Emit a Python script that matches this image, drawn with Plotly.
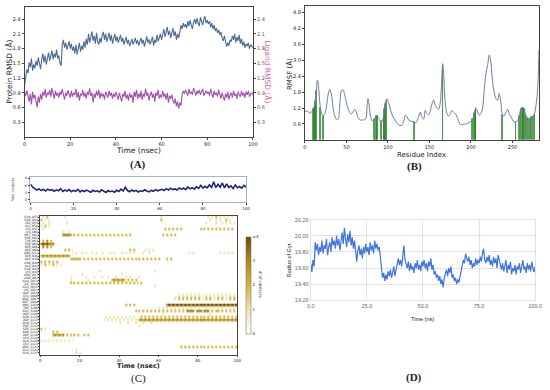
import numpy as np
import plotly.graph_objects as go

# ---------------- Panel A : RMSD ----------------
protein_rmsd = [
    1.05, 1.25, 1.38, 1.30, 1.52, 1.42, 1.60, 1.35, 1.48, 1.40, 1.55,
    1.45, 1.62, 1.50, 1.38, 1.58, 1.70, 1.52, 1.66, 1.48, 1.60,
    1.72, 1.55, 1.68, 1.76, 1.58, 1.70, 1.62, 1.78, 1.60, 1.66,
    1.50, 1.45, 1.88, 1.98, 1.82, 1.92, 1.78, 1.86, 1.95, 1.80,
    1.90, 1.76, 1.84, 1.70, 1.88, 1.68, 1.82, 1.92, 1.74, 1.86,
    1.78, 1.95, 1.82, 2.00, 1.88, 2.10, 1.92, 2.05, 2.15, 1.96,
    2.06, 1.90, 2.12, 1.95, 1.88, 2.02, 1.92, 2.08, 2.14, 1.98,
    2.10, 1.94, 2.04, 2.12, 1.96, 2.08, 1.90, 2.02, 2.10, 1.95,
    2.05, 1.92, 2.00, 2.08, 1.94, 2.02, 1.88, 1.96, 2.04, 1.90,
    1.98, 1.85, 1.92, 2.00, 1.88, 1.95, 2.02, 1.90, 1.97, 1.86,
    1.94, 2.02, 1.90, 1.98, 1.84, 1.96, 2.05, 1.92, 1.99, 1.88,
    1.96, 2.04, 1.86, 1.98, 1.92, 2.08, 1.95, 2.02, 2.10, 1.98,
    2.12, 2.20, 2.04, 2.18, 2.24, 2.08, 2.16, 2.02, 2.14, 2.22,
    2.06, 2.15, 1.98, 2.10, 2.02, 2.12, 2.28, 2.20, 2.32, 2.24,
    2.30, 2.22, 2.36, 2.26, 2.38, 2.28, 2.20, 2.34, 2.40, 2.30,
    2.42, 2.32, 2.26, 2.44, 2.35, 2.28, 2.40, 2.46, 2.32, 2.38,
    2.30, 2.36, 2.24, 2.32, 2.20, 2.28, 2.16, 2.22, 2.12, 2.18,
    2.08, 2.14, 2.02, 1.96, 2.06, 1.90, 1.84, 1.92, 1.86, 1.98,
    1.94, 2.06, 1.98, 2.10, 1.92, 2.04, 1.96, 2.08, 1.90, 2.00,
    1.86, 1.94, 1.82, 1.90, 1.85, 1.92, 1.80, 1.88, 1.84, 1.82,
]
ligand_rmsd = [
    0.90, 0.84, 0.95, 0.80, 0.72, 0.88, 0.66, 0.92, 0.78, 0.86, 0.74,
    0.60, 0.82, 0.70, 0.88, 0.76, 0.92, 0.84, 0.98, 0.80, 0.90,
    0.86, 0.96, 0.82, 1.00, 0.88, 0.78, 0.94, 0.84, 0.90, 0.80,
    0.92, 0.86, 0.98, 0.82, 0.76, 0.90, 0.84, 0.95, 0.88, 0.80,
    0.94, 0.82, 0.90, 0.86, 0.98, 0.80, 0.92, 0.74, 0.88, 0.84,
    0.96, 0.82, 0.90, 0.78, 0.92, 0.86, 0.99, 0.84, 0.90, 0.70,
    0.88, 0.80, 0.94, 0.84, 0.96, 0.78, 0.90, 0.82, 0.88, 0.76,
    0.92, 0.86, 0.80, 0.94, 0.84, 0.90, 0.78, 0.88, 0.82, 0.92,
    0.84, 0.76, 0.90, 0.80, 0.72, 0.88, 0.82, 0.94, 0.78, 0.86,
    0.74, 0.90, 0.80, 0.86, 0.70, 0.92, 0.82, 0.96, 0.78, 0.88,
    0.80, 0.94, 0.76, 0.88, 0.82, 0.98, 0.84, 0.90, 0.74, 0.86,
    0.92, 0.80, 0.88, 0.72, 0.90, 0.84, 0.96, 0.78, 0.86, 0.80,
    0.94, 0.82, 0.88, 0.76, 0.90, 0.70, 0.84, 0.78, 0.86, 0.74,
    0.68, 0.78, 0.62, 0.72, 0.58, 0.70, 0.64, 0.86, 0.94, 0.88,
    0.96, 0.90, 0.84, 0.98, 0.88, 0.92, 0.86, 1.00, 0.90, 0.84,
    0.94, 0.88, 0.96, 0.86, 0.92, 0.98, 0.84, 0.90, 0.94, 0.88,
    0.92, 0.84, 0.98, 0.88, 0.80, 0.94, 0.86, 0.90, 0.82, 0.96,
    0.86, 0.78, 0.90, 0.82, 0.74, 0.88, 0.80, 0.92, 0.76, 0.86,
    0.90, 0.80, 0.94, 0.84, 0.88, 0.78, 0.92, 0.86, 0.82, 0.94,
    0.84, 0.90, 0.80, 0.92, 0.86, 0.94, 0.82, 0.88, 0.90, 0.86,
]
rmsd_ticks = [0.3, 0.6, 0.9, 1.2, 1.5, 1.8, 2.1, 2.4]
time_ticks = [0, 20, 40, 60, 80, 100]

# ---------------- Panel B : RMSF ----------------
rmsf_residue = [0, 3, 6, 9, 11, 13, 15, 16, 18, 20, 22, 24, 26, 28, 30, 32, 34, 36, 38, 40,
                42, 44, 46, 48, 50, 53, 56, 58, 60, 62, 64, 67, 70, 73, 75, 76, 77, 79, 81, 83,
                85, 87, 89, 91, 93, 95, 97, 99, 101, 103, 105, 108, 111, 114, 117, 119, 121, 123, 125, 128,
                131, 134, 137, 139, 141, 143, 145, 147, 149, 151, 153, 155, 157, 159, 161, 163, 165, 166, 167, 169,
                171, 173, 175, 177, 179, 182, 185, 187, 190, 193, 196, 199, 202, 204, 206, 208, 210, 212, 214, 216,
                218, 220, 222, 224, 226, 228, 230, 232, 234, 236, 238, 240, 242, 244, 246, 248, 250, 252, 254, 256,
                258, 260, 262, 264, 266, 268, 270, 272, 274, 276, 278, 280, 282]
rmsf_value = [1.05, 1.10, 1.00, 1.10, 1.22, 1.45, 2.25, 2.15, 1.40, 1.00, 0.92, 0.98, 1.25, 1.70, 1.90, 1.70, 1.20, 0.90, 0.78, 0.78,
              1.30, 1.85, 1.88, 1.70, 1.40, 1.10, 0.98, 1.05, 1.15, 1.05, 0.85, 0.75, 0.75, 0.78, 1.30, 1.55, 1.40, 0.90, 0.72, 0.72,
              0.85, 0.92, 0.80, 0.70, 0.70, 0.95, 1.35, 1.55, 1.40, 1.15, 0.95, 0.78, 0.62, 0.55, 0.55, 0.70, 0.93, 0.88, 0.75, 0.70,
              0.68, 0.65, 0.88, 1.05, 0.85, 0.78, 1.12, 1.00, 0.95, 1.10, 1.35, 1.50, 1.30, 1.20, 1.15, 1.40, 2.40, 2.85, 2.55, 1.40,
              1.00, 0.90, 0.95, 1.10, 1.05, 0.95, 0.72, 0.58, 0.58, 0.60, 0.62, 0.68, 0.78, 1.00, 1.20, 1.05, 0.92, 1.00, 1.20, 1.90,
              2.50, 2.80, 3.20, 2.90, 2.20, 1.80, 1.55, 1.50, 1.75, 1.40, 0.95, 0.90, 1.05, 1.15, 1.00, 0.88, 0.75, 0.68, 0.68, 0.72,
              0.90, 1.15, 1.22, 1.15, 0.95, 0.82, 0.80, 0.85, 0.88, 0.95, 1.25, 1.80, 3.40]
contact_residues = [10, 11, 12, 13, 14, 19, 22, 84, 86, 87, 92, 95, 96, 97, 98, 132, 166,
                    202, 204, 205, 206, 238, 254, 258, 260, 262, 263, 264, 266, 268, 270, 272, 274, 276]
rmsf_ticks = [0.6, 1.2, 1.8, 2.4, 3.0, 3.6, 4.2, 4.8]
residue_ticks = [0, 50, 100, 150, 200, 250]

# ---------------- Panel C : contacts ----------------
total_contacts = [
    6.5, 5.2, 4.6, 4.0, 4.5, 3.8, 4.3, 3.6, 4.4, 3.9, 4.2,
    3.5, 4.1, 3.7, 4.6, 3.4, 4.0, 3.6, 4.2, 3.3, 3.9,
    3.5, 4.3, 3.2, 3.8, 3.4, 4.0, 3.6, 3.1, 3.9, 3.4,
    3.7, 3.2, 4.1, 3.5, 3.0, 3.8, 3.3, 3.6, 3.1, 3.9,
    3.4, 4.4, 3.6, 5.2, 3.8, 3.3, 4.0, 3.5, 3.9, 3.2,
    3.7, 3.4, 4.1, 3.6, 3.2, 3.9, 3.5, 4.2, 3.7, 4.0,
    4.3, 3.8, 4.6, 4.0, 4.8, 4.2, 4.5, 4.0, 4.9, 4.4,
    4.8, 4.2, 5.3, 4.5, 5.0, 4.4, 5.4, 4.7, 6.0, 4.8,
    5.6, 4.9, 6.2, 5.1, 7.5, 5.0, 6.4, 5.2, 7.0, 4.9,
    6.6, 5.1, 5.8, 4.6, 6.2, 5.0, 5.5, 4.8, 6.0, 5.2,
]
contact_yticks = [0, 3, 6, 9]

residue_names = [
    "GLN_853", "GLN_854", "LEU_855", "GLY_856", "LYS_857", "LYS_860", "MET_861", "PHE_862",
    "TYR_863", "THR_864", "SER_866", "ASP_869", "ARG_871", "SER_936", "ASP_939", "ASN_940",
    "ALA_941", "GLN_942", "LYS_943", "ARG_947", "ASN_981", "GLU_1011", "ILE_1012", "GLU_1015",
    "LYS_1053", "ASP_1054", "LEU_1086", "ARG_1087", "MET_1089", "PRO_1104", "TRP_1106", "GLU_1108",
    "ASP_1109", "ASN_1110", "ASP_1111", "GLN_1112", "PHE_1113", "SER_1114", "ASN_1115", "ASP_1116",
    "LEU_1118", "ALA_1120", "LEU_1121", "ARG_1122", "GLU_1124", "GLN_1125",
]
# one character per ns (0..99), '.' = no contact, digit = number of contacts
contact_rows = [
    ".1.2......|..1.......|..........|..........|..........|..........|.1........|..........|.....1.1.2|.1.1.1.1..",
    "2.1.1.....|..........|..........|..........|..........|..........|.2........|..........|......1..1|.1..2.1...",
    ".1..1.....|...1......|..........|..........|..........|..........|..........|..........|....1....1|..1.1.1.1.",
    "1.2.1.....|..........|..........|..........|..........|..........|..........|..........|..........|..........",
    ".1........|..........|..........|..........|..........|..........|...2.2.2.2|.2........|.2.2.2.2.2|.2.2.2.2..",
    "..........|.1..1.....|..........|..........|..........|..........|..........|..........|..........|..........",
    "..........|.33332.2.2|.2.2.2.2.2|.2.2.2.2.2|.2.2.2....|..........|..2.2.2.2.|..........|..........|..........",
    "..........|..........|..........|..........|..........|..........|..........|..........|..........|..........",
    ".2.3.2....|..........|..........|..........|..........|..........|..........|..........|..........|..........",
    "3434333...|..........|..........|..........|..........|..........|..........|..........|..........|..........",
    ".3.3.2....|..........|..........|..........|..........|..........|..........|..........|..........|..........",
    "..........|..2.2.1...|..........|..........|.....2.2..|...1.1.1..|..........|..........|..........|..........",
    "..........|......1.1.|.1.1..1.1.|.1...1.1..|.1.1.1.1.1|..1..1....|..........|.....1.1..|..........|.1.1.1.1..",
    "2323232323|23232.....|..........|..........|..........|..........|..........|..........|..........|..........",
    "..........|.....22222|2.2.2.2.2.|2.2.2.2.2.|2.2.2.2.2.|2.2.2.2.2.|2...2.2...|..........|..........|..........",
    "2.2.2.2.2.|..........|..........|..........|..........|..........|..........|..........|..........|..........",
    "1.2.1.2.1.|1.........|..........|..........|..........|..........|..........|..........|..........|..........",
    "..........|..........|..........|..........|..........|..........|..........|..........|..........|..........",
    "..........|..........|..........|1.........|..........|........1.|..........|..........|..........|..........",
    "..........|..........|.1........|..........|.1........|..........|..........|..........|..........|..........",
    "..........|.....1....|...1...1..|.1..1...1.|...1.1....|1.........|..........|..........|..........|..........",
    "..........|.....1....|....1.....|......2323|232.2.2.2.|..........|..........|..........|..........|..........",
    "..........|.....2.2.2|.2.2.2.2.2|.2.2.2.2.2|.2.2.2.2.2|.2........|..........|..........|..........|..........",
    "..........|..........|..........|..........|..........|........1.|..........|..........|..........|..........",
    "..........|..........|..........|..........|..........|..........|..........|..........|..........|..........",
    "..........|..........|..........|..........|..........|..........|..........|..........|..........|..........",
    "..........|..........|..........|..........|..........|..........|..........|1.1.1.1.1.|1.1.1.1.1.|1.1.1.1.1.",
    "..........|..........|..........|..........|..........|..........|........1.|2.2.2.2.2.|2.1.2.2.1.|2.2.1.2.2.",
    "..........|..........|..........|..........|..........|..........|..........|..........|..........|..........",
    "..........|..........|..........|..........|...2.2.2..|..........|....343434|3434343434|3434343434|3434343434",
    "..........|..........|..........|..........|..........|..........|1.1.1.1.1.|1.1.1.1.1.|1.1.1.1.1.|1.1.1.1.1.",
    "..........|..........|..........|..........|........2.|2.2.2.2.2.|2.2.2.2.2.|2.2.3333.3|33.333.2.2|2.2.2.2.2.",
    "..........|..........|..........|..........|..........|..........|..1.......|..........|......1...|..........",
    "..........|..........|..........|...1.1.1.1|.1.1.1.1.1|.2.2.2.2.2|.2.2.2.2.2|.2.2.2.2.2|.2.2.2.2.2|.2.2.2.2.2",
    "..........|..........|..........|..1.1.1.1.|1.1.1.1.1.|2323232323|2323232323|2323232323|2323232323|2323232323",
    "..........|..........|..........|..........|1...1...1.|..1...1...|..........|..........|..........|..........",
    "..........|..........|..........|..........|..........|1.........|..........|..........|..........|..........",
    "2.1.......|..........|..........|..........|..........|..........|..........|..........|..........|..........",
    "......2.2.|..........|..........|..........|..........|..........|..........|..........|..........|..........",
    "......2323|23.2.2.2.2|..2.2.....|..........|..........|..........|..........|..........|..........|..........",
    "..........|..........|..........|..........|..........|..........|..........|..........|..........|..........",
    "1.1.1.1.1.|1.1.1.1...|..........|..........|..........|..........|..........|..........|..........|..........",
    "..........|..........|..........|..........|..........|..........|..........|..........|..........|..........",
    "..........|..........|..........|..........|..........|..........|..........|.2.2.2.2.2|.2.2.2.2.2|.2.2.2.2.2",
    "..........|......1.1.|..........|..........|..........|..........|..........|..........|..........|..........",
    "..........|........1.|1.........|..........|..........|..........|..........|..........|..........|..........",
]
contact_levels = [0, 1, 2, 3, 4]
contact_level_labels = ["0", "1", "2", "3", "\u22654"]

# ---------------- Panel D : Radius of gyration ----------------
rg_values = [
    19.66, 19.55, 19.70, 19.62, 19.92, 19.82, 19.90, 19.76, 19.86, 19.80, 19.94,
    19.78, 19.88, 19.84, 19.96, 19.76, 19.86, 19.92, 19.80, 19.98, 19.88,
    19.94, 19.84, 20.00, 19.88, 19.96, 19.82, 19.92, 20.04, 19.90, 20.10,
    19.96, 19.86, 20.02, 19.92, 20.06, 19.88, 19.98, 19.84, 19.94, 19.80,
    19.68, 19.82, 19.88, 19.76, 19.84, 19.72, 19.86, 19.78, 19.90, 19.80,
    19.86, 19.76, 19.92, 19.82, 19.88, 19.78, 19.94, 19.84, 19.90, 19.82,
    19.86, 19.74, 19.58, 19.48, 19.54, 19.44, 19.52, 19.46, 19.56, 19.50,
    19.58, 19.48, 19.54, 19.62, 19.50, 19.58, 19.66, 19.72, 19.64, 19.70,
    19.62, 19.76, 19.88, 19.70, 19.64, 19.60, 19.68, 19.56, 19.66, 19.58,
    19.62, 19.54, 19.66, 19.60, 19.70, 19.58, 19.64, 19.56, 19.68, 19.62,
    19.70, 19.60, 19.66, 19.56, 19.68, 19.62, 19.72, 19.58, 19.64, 19.52,
    19.56, 19.48, 19.52, 19.44, 19.50, 19.40, 19.46, 19.36, 19.48, 19.54,
    19.58, 19.50, 19.60, 19.54, 19.62, 19.48, 19.52, 19.44, 19.48, 19.40,
    19.46, 19.42, 19.50, 19.58, 19.62, 19.70, 19.66, 19.78, 19.72, 19.68,
    19.74, 19.64, 19.70, 19.60, 19.66, 19.62, 19.72, 19.64, 19.70, 19.66,
    19.74, 19.68, 19.78, 19.84, 19.70, 19.66, 19.74, 19.68, 19.76, 19.64,
    19.70, 19.62, 19.74, 19.66, 19.72, 19.60, 19.76, 19.68, 19.64, 19.58,
    19.66, 19.56, 19.62, 19.70, 19.54, 19.64, 19.58, 19.68, 19.52, 19.60,
    19.56, 19.64, 19.52, 19.62, 19.58, 19.66, 19.54, 19.60, 19.70, 19.58,
    19.62, 19.54, 19.66, 19.58, 19.64, 19.56, 19.68, 19.60, 19.55, 19.62,
]
rg_ticks = [19.2, 19.4, 19.6, 19.8, 20.0, 20.2]
rg_time_ticks = [0, 25, 50, 75, 100]

# =====================================================================
W, H = 550, 390
def px(x):
    return x / W
def py(y):
    return 1 - y / H

time_a = np.linspace(0, 100, len(protein_rmsd))
time_l = np.linspace(0, 100, len(ligand_rmsd))
time_c = np.linspace(0, 100, len(total_contacts))
time_d = np.linspace(0, 100, len(rg_values))

def parse_row(s):
    s = s.replace("|", "").ljust(100, ".")[:100]
    return [0 if ch == "." else int(ch) for ch in s]

z = [parse_row(r) for r in contact_rows]
bins = np.arange(100) + 0.5

MPL = "DejaVu Sans"
fig = go.Figure()

# A
fig.add_trace(go.Scatter(x=time_a, y=protein_rmsd, mode="lines",
                         line=dict(color="#4d6a93", width=1.1), xaxis="x", yaxis="y", showlegend=False))
fig.add_trace(go.Scatter(x=time_l, y=ligand_rmsd, mode="lines",
                         line=dict(color="#a24fb0", width=1.1), xaxis="x", yaxis="y2", showlegend=False))
# B
contact_h = np.interp(contact_residues, rmsf_residue, rmsf_value)
fig.add_trace(go.Bar(x=contact_residues, y=contact_h, width=0.9,
                     marker=dict(color="#3f9b3f", line=dict(color="#2a7a2a", width=0.6)),
                     xaxis="x2", yaxis="y3", showlegend=False))
fig.add_trace(go.Scatter(x=rmsf_residue, y=rmsf_value, mode="lines", line_shape="spline",
                         line=dict(color="#6e7ea0", width=1), xaxis="x2", yaxis="y3", showlegend=False))
# C top
fig.add_trace(go.Scatter(x=time_c, y=total_contacts, mode="lines",
                         line=dict(color="#22227a", width=1.6), xaxis="x3", yaxis="y4", showlegend=False))
# C heatmap
fig.add_trace(go.Heatmap(
    x=bins, y=list(range(len(residue_names))), z=z, zmin=0, zmax=4,
    colorscale=[[0, "#ffffff"], [0.25, "#efe3b4"], [0.5, "#d6b53c"], [0.75, "#b08a1c"], [1, "#6e4a0a"]],
    xaxis="x4", yaxis="y5", xgap=0, ygap=0.4,
    colorbar=dict(x=px(247), xanchor="left", y=py(286.5), yanchor="middle",
                  len=97, lenmode="pixels", thickness=5, thicknessmode="pixels",
                  tickvals=contact_levels, ticktext=contact_level_labels,
                  tickfont=dict(size=4, family=MPL), outlinewidth=0.5, outlinecolor="#666",
                  ticklen=2, xpad=0, ypad=0),
))
# D
fig.add_trace(go.Scatter(x=time_d, y=rg_values, mode="lines",
                         line=dict(color="#3f74dc", width=1.2), xaxis="x5", yaxis="y6", showlegend=False))

frame = dict(showline=True, linecolor="#444", linewidth=0.7, mirror=True, ticks="outside",
             ticklen=2, tickwidth=0.6, tickcolor="#444", showgrid=False, zeroline=False)

fig.update_layout(
    width=W, height=H, margin=dict(l=0, r=0, t=0, b=0),
    paper_bgcolor="white", plot_bgcolor="white",
    font=dict(family=MPL, color="#222"),
    bargap=0,
    xaxis=dict(domain=[px(21), px(254)], range=[0, 100], tickvals=time_ticks,
               tickfont=dict(size=5), anchor="y", **frame),
    yaxis=dict(domain=[py(136), py(4)], range=[0, 2.65], tickvals=rmsd_ticks,
               tickformat=".1f", tickfont=dict(size=5), anchor="x", **frame),
    yaxis2=dict(range=[0, 2.65], tickvals=rmsd_ticks, tickformat=".1f", overlaying="y",
                side="right", anchor="x", tickfont=dict(size=5, color="#555"),
                showgrid=False, zeroline=False, ticks="outside", ticklen=2, tickwidth=0.6,
                tickcolor="#444"),
    xaxis2=dict(domain=[px(307), px(546)], range=[0, 282], tickvals=residue_ticks,
                tickfont=dict(size=5), anchor="y3", **frame),
    yaxis3=dict(domain=[py(139), py(3)], range=[0, 5.05], tickvals=rmsf_ticks,
                tickformat=".1f", tickfont=dict(size=5), anchor="x2", **frame),
    xaxis3=dict(domain=[px(27), px(247)], range=[0, 100], tickvals=time_ticks,
                tickfont=dict(size=4), anchor="y4", **{**frame, "linecolor": "#9bb"}),
    yaxis4=dict(domain=[py(202), py(177)], range=[-1, 9.4], tickvals=contact_yticks,
                tickfont=dict(size=3.5), anchor="x3", **{**frame, "linecolor": "#9bb"}),
    xaxis4=dict(domain=[px(37), px(238)], range=[0, 100], tickvals=time_ticks,
                tickfont=dict(size=4), anchor="y5", **frame),
    yaxis5=dict(domain=[py(357), py(216)], range=[len(residue_names) - 0.5, -0.5],
                tickmode="array", tickvals=list(range(len(residue_names))), ticktext=residue_names,
                tickfont=dict(size=3), anchor="x4", **{**frame, "ticklen": 1}),
    xaxis5=dict(domain=[px(313), px(542)], range=[0, 100], tickvals=rg_time_ticks,
                tickformat=".1f", tickfont=dict(size=5.5, color="#666", family="Liberation Sans"),
                anchor="y6", showgrid=True, gridcolor="#e2e2e2", gridwidth=0.8, zeroline=False,
                showline=True, linecolor="#e2e2e2", mirror=True, ticks=""),
    yaxis6=dict(domain=[py(302), py(220)], range=[19.2, 20.2], tickvals=rg_ticks,
                tickformat=".2f", tickfont=dict(size=5.5, color="#666", family="Liberation Sans"),
                anchor="x5", showgrid=True, gridcolor="#e2e2e2", gridwidth=0.8, zeroline=False,
                showline=True, linecolor="#e2e2e2", mirror=True, ticks=""),
)

def ann(text, x, y, size, angle=0, color="#222", family=MPL, bold=False):
    t = "<b>%s</b>" % text if bold else text
    fig.add_annotation(text=t, x=px(x), y=py(y), xref="paper", yref="paper",
                       showarrow=False, textangle=angle,
                       font=dict(size=size, color=color, family=family),
                       xanchor="center", yanchor="middle")

SERIF = "Liberation Serif"
# A
ann("Protein RMSD (\u00c5)", 6, 70, 7.5, -90)
ann("Ligand RMSD (\u00c5)", 268, 70, 7.5, 90, color="#d95a9f")
ann("Time (nsec)", 137, 149.5, 7.5)
ann("(A)", 137, 164, 11, family=SERIF, bold=True)
# B
ann("RMSF (\u00c5)", 292, 72, 7, -90)
ann("Residue Index", 426, 154.5, 7)
ann("(B)", 419, 166, 11, family=SERIF, bold=True)
# C
ann("Total contacts", 9, 190, 3.5, -90, color="#555")
ann("Time (nsec)", 137, 368.5, 6.5, bold=True)
ann("# of contacts", 262, 286, 4, 90)
ann("(C)", 137, 381, 11, family=SERIF)
# D
ann("Radius of Gyr.", 291, 261, 5.5, -90, family="Liberation Sans")
ann("Time (ns)", 427, 321, 5.5, family="Liberation Sans")
ann("(D)", 418, 380, 11, family=SERIF, bold=True)

fig.write_html("out.html", config={"displayModeBar": False},
               post_script="document.body.style.margin='0';document.body.style.overflow='hidden';")
